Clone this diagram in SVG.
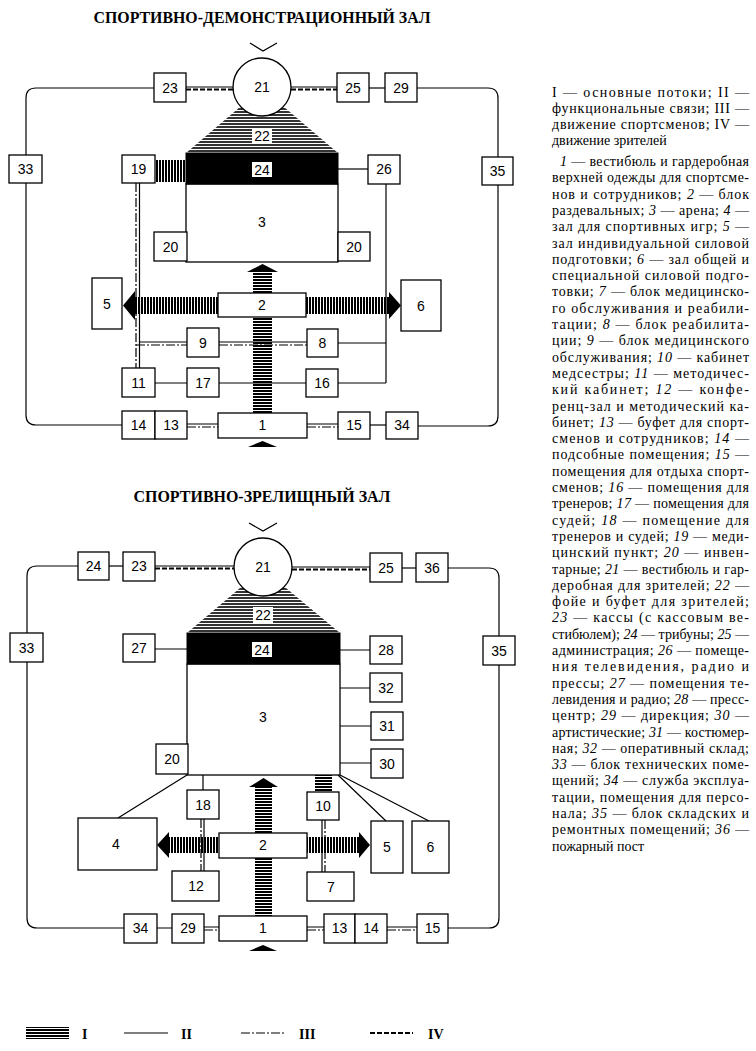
<svg xmlns="http://www.w3.org/2000/svg" width="756" height="1051" viewBox="0 0 756 1051">
<style>
.b{fill:#fff;stroke:#000;stroke-width:1.3}
.t{font-family:"Liberation Sans",Arial,sans-serif;font-size:14px;text-anchor:middle;fill:#000}
.l{fill:none;stroke:#000;stroke-width:1.2}
.dd{fill:none;stroke:#000;stroke-width:1.2;stroke-dasharray:9 2 2 2}
.ds{fill:none;stroke:#000;stroke-width:1.8;stroke-dasharray:5 2}
.ttl{font-family:"Liberation Serif","Times New Roman",serif;font-size:16px;font-weight:bold;text-anchor:middle}
.tx{font-family:"Liberation Serif","Times New Roman",serif;font-size:14px;fill:#000}
.lg{font-family:"Liberation Serif","Times New Roman",serif;font-size:14px;font-weight:bold}
.i{font-style:italic}
</style>
<defs>
<pattern id="pv" width="4" height="3" patternUnits="userSpaceOnUse"><rect width="4" height="2" fill="#000"/></pattern>
<pattern id="ph" width="3" height="4" patternUnits="userSpaceOnUse"><rect width="2" height="4" fill="#000"/></pattern>
<pattern id="p22" width="4" height="3" patternUnits="userSpaceOnUse"><rect width="4" height="3" fill="#fff"/><rect width="4" height="2" fill="#333"/></pattern>
</defs>

<!-- ===== TOP DIAGRAM ===== -->
<text class="ttl" x="262" y="23" textLength="337" lengthAdjust="spacingAndGlyphs">СПОРТИВНО-ДЕМОНСТРАЦИОННЫЙ ЗАЛ</text>
<path class="l" d="M250,43 L263,51 L277,43" stroke-width="1.5"/>

<g id="top-connectors">
<path class="l" d="M154,88 H36 Q26,88 26,98 V155 M26,183 V415 Q26,425 36,425 H122"/>
<path class="l" d="M417,88 H488 Q498,88 498,98 V157 M498,185 V416 Q498,426 488,426 H418"/>
<path class="l" d="M186,87 H234 M291,87 H337"/>
<path class="ds" d="M186,89.5 H234 M291,89.5 H337"/>
<path class="l" d="M369,88 H385"/>
<path class="l" d="M338,169 H368"/>
<path class="l" d="M386,184 V383 M338,343 H386 M338,383 H386"/>
<path class="l" d="M139.5,183 V368"/>
<path class="dd" d="M136,183 V368"/>
<path class="l" d="M139.5,342 H187 M219,342 H307"/>
<path class="dd" d="M136,345 H187 M219,345 H307"/>
<path class="l" d="M155,383 H187 M219,383 H306"/>
<path class="l" d="M187,424 H218 M307,424 H338"/>
<path class="dd" d="M187,427 H218 M307,427 H338"/>
<path class="l" d="M370,425 H386"/>
<!-- main flows -->
<rect x="155" y="160" width="31" height="22" fill="url(#ph)"/>
<rect x="134" y="297" width="84" height="17" fill="url(#ph)"/>
<polygon points="123,305.5 135,291 135,320" fill="#000"/>
<rect x="306" y="297" width="84" height="17" fill="url(#ph)"/>
<polygon points="401,305.5 389,292 389,319" fill="#000"/>
<rect x="253" y="272" width="19" height="21" fill="url(#pv)"/>
<polygon points="262.5,264 278,272 247,272" fill="#000"/>
<rect x="253" y="317" width="19" height="96" fill="url(#pv)"/>
<polygon points="262.5,441 277,447 248,447" fill="#000"/>
</g>

<g id="t-n22"><polygon points="240,107 284,107 338,153 186,153" fill="url(#p22)"/><rect x="252" y="128" width="20" height="15" fill="#fff"/><text class="t" x="262" y="141">22</text></g>
<g id="t-n21"><circle class="b" cx="262" cy="87" r="29"/><text class="t" x="262" y="92">21</text></g>
<g id="t-n23"><rect class="b" x="154" y="73" width="32" height="29"/><text class="t" x="170" y="93">23</text></g>
<g id="t-n25"><rect class="b" x="337" y="73" width="32" height="29"/><text class="t" x="353" y="93">25</text></g>
<g id="t-n29"><rect class="b" x="385" y="73" width="32" height="29"/><text class="t" x="401" y="93">29</text></g>
<g id="t-n33"><rect class="b" x="9" y="155" width="33" height="28"/><text class="t" x="25.5" y="174">33</text></g>
<g id="t-n19"><rect class="b" x="122" y="155" width="33" height="28"/><text class="t" x="138.5" y="174">19</text></g>
<g id="t-n26"><rect class="b" x="368" y="155" width="32" height="29"/><text class="t" x="384" y="174">26</text></g>
<g id="t-n35"><rect class="b" x="482" y="157" width="31" height="28"/><text class="t" x="497.5" y="176">35</text></g>
<g id="t-n3"><rect class="b" x="186" y="184" width="152" height="78"/><text class="t" x="262" y="227">3</text></g>
<g id="t-n24"><rect x="186" y="153" width="152" height="31" fill="#000" stroke="#000"/><rect x="252" y="162" width="20" height="15" fill="#fff"/><text class="t" x="262" y="175">24</text></g>
<g id="t-n20a"><rect class="b" x="154" y="232" width="33" height="29"/><text class="t" x="170.5" y="252">20</text></g>
<g id="t-n20b"><rect class="b" x="338" y="232" width="32" height="29"/><text class="t" x="354" y="252">20</text></g>
<g id="t-n5"><rect class="b" x="92" y="278" width="30" height="51"/><text class="t" x="107" y="309">5</text></g>
<g id="t-n6"><rect class="b" x="401" y="280" width="40" height="51"/><text class="t" x="421" y="311">6</text></g>
<g id="t-n2"><rect class="b" x="218" y="293" width="88" height="24"/><text class="t" x="262" y="310">2</text></g>
<g id="t-n9"><rect class="b" x="187" y="328" width="32" height="29"/><text class="t" x="203" y="348">9</text></g>
<g id="t-n8"><rect class="b" x="307" y="329" width="31" height="28"/><text class="t" x="322.5" y="348">8</text></g>
<g id="t-n11"><rect class="b" x="122" y="368" width="33" height="29"/><text class="t" x="138.5" y="388">11</text></g>
<g id="t-n17"><rect class="b" x="187" y="368" width="32" height="29"/><text class="t" x="203" y="388">17</text></g>
<g id="t-n16"><rect class="b" x="306" y="369" width="32" height="28"/><text class="t" x="322" y="388">16</text></g>
<g id="t-n14"><rect class="b" x="122" y="411" width="33" height="28"/><text class="t" x="138.5" y="430">14</text></g>
<g id="t-n13"><rect class="b" x="155" y="411" width="32" height="28"/><text class="t" x="171" y="430">13</text></g>
<g id="t-n1"><rect class="b" x="218" y="413" width="89" height="25"/><text class="t" x="262.5" y="430">1</text></g>
<g id="t-n15"><rect class="b" x="338" y="412" width="32" height="27"/><text class="t" x="354" y="430">15</text></g>
<g id="t-n34"><rect class="b" x="386" y="412" width="32" height="27"/><text class="t" x="402" y="430">34</text></g>

<!-- ===== BOTTOM DIAGRAM ===== -->
<text class="ttl" x="262" y="502" textLength="257" lengthAdjust="spacingAndGlyphs">СПОРТИВНО-ЗРЕЛИЩНЫЙ ЗАЛ</text>
<path class="l" d="M249,523 L263,531 L277,523" stroke-width="1.5"/>

<g id="bottom-connectors">
<path class="l" d="M78,566 H37 Q27,566 27,576 V633 M27,662 V918 Q27,928 37,928 H124"/>
<path class="l" d="M448,568 H489 Q499,568 499,578 V636 M499,665 V918 Q499,928 489,928 H448"/>
<path class="l" d="M109,566 H123"/>
<path class="l" d="M155,566 H234 M292,567 H370"/>
<path class="ds" d="M155,568.5 H234 M292,569.5 H370"/>
<path class="l" d="M402,568 H416"/>
<path class="l" d="M155,649 H187 M340,650 H370 M340,688 H370 M340,726 H371 M340,763 H371"/>
<path class="l" d="M187,775 L118,818 M203,775 V790 M338,775 L386,821 M340,775 L429,821"/>
<path class="l" d="M204,819 V871 M322,820 V872"/>
<path class="dd" d="M201,819 V871 M325,820 V872"/>
<path class="l" d="M157,928 H172 M204,927 H219 M307,927 H324 M387,927 H417"/>
<path class="dd" d="M204,930 H219 M307,930 H324 M387,930 H417"/>
<!-- main flows -->
<rect x="315" y="775" width="17" height="17" fill="url(#pv)"/>
<rect x="168" y="837" width="51" height="16" fill="url(#ph)"/>
<polygon points="157,845 169,832 169,858" fill="#000"/>
<rect x="307" y="837" width="53" height="16" fill="url(#ph)"/>
<polygon points="370,845 359,832 359,858" fill="#000"/>
<rect x="255" y="787" width="17" height="46" fill="url(#pv)"/>
<polygon points="263.5,778 278,787 249,787" fill="#000"/>
<rect x="255" y="858" width="17" height="58" fill="url(#pv)"/>
<polygon points="263,945 277,951 249,951" fill="#000"/>
</g>

<g id="b-n22"><polygon points="240,588 286,588 340,633 187,633" fill="url(#p22)"/><rect x="253" y="607" width="20" height="16" fill="#fff"/><text class="t" x="263" y="620">22</text></g>
<g id="b-n21"><circle class="b" cx="263" cy="567" r="29"/><text class="t" x="263" y="572">21</text></g>
<g id="b-n24s"><rect class="b" x="78" y="552" width="31" height="28"/><text class="t" x="93.5" y="571">24</text></g>
<g id="b-n23"><rect class="b" x="123" y="552" width="32" height="29"/><text class="t" x="139" y="571">23</text></g>
<g id="b-n25"><rect class="b" x="370" y="553" width="32" height="29"/><text class="t" x="386" y="573">25</text></g>
<g id="b-n36"><rect class="b" x="416" y="553" width="32" height="29"/><text class="t" x="432" y="573">36</text></g>
<g id="b-n33"><rect class="b" x="10" y="633" width="33" height="29"/><text class="t" x="26.5" y="653">33</text></g>
<g id="b-n27"><rect class="b" x="123" y="634" width="32" height="28"/><text class="t" x="139" y="653">27</text></g>
<g id="b-n28"><rect class="b" x="370" y="636" width="32" height="28"/><text class="t" x="386" y="655">28</text></g>
<g id="b-n35"><rect class="b" x="483" y="636" width="32" height="29"/><text class="t" x="499" y="656">35</text></g>
<g id="b-n32"><rect class="b" x="370" y="673" width="32" height="29"/><text class="t" x="386" y="693">32</text></g>
<g id="b-n3"><rect class="b" x="187" y="664" width="153" height="111"/><text class="t" x="263" y="722">3</text></g>
<g id="b-n24"><rect x="187" y="633" width="153" height="31" fill="#000" stroke="#000"/><rect x="252" y="642" width="20" height="15" fill="#fff"/><text class="t" x="262" y="655">24</text></g>
<g id="b-n31"><rect class="b" x="371" y="712" width="32" height="28"/><text class="t" x="387" y="731">31</text></g>
<g id="b-n30"><rect class="b" x="371" y="749" width="32" height="29"/><text class="t" x="387" y="769">30</text></g>
<g id="b-n20"><rect class="b" x="156" y="744" width="32" height="30"/><text class="t" x="172" y="764">20</text></g>
<g id="b-n18"><rect class="b" x="187" y="790" width="32" height="29"/><text class="t" x="203" y="810">18</text></g>
<g id="b-n10"><rect class="b" x="307" y="792" width="32" height="28"/><text class="t" x="323" y="811">10</text></g>
<g id="b-n4"><rect class="b" x="78" y="818" width="79" height="52"/><text class="t" x="116" y="849">4</text></g>
<g id="b-n2"><rect class="b" x="219" y="833" width="88" height="25"/><text class="t" x="263" y="850">2</text></g>
<g id="b-n5"><rect class="b" x="371" y="821" width="32" height="52"/><text class="t" x="387" y="852">5</text></g>
<g id="b-n6"><rect class="b" x="412" y="821" width="37" height="52"/><text class="t" x="430.5" y="852">6</text></g>
<g id="b-n12"><rect class="b" x="172" y="871" width="47" height="30"/><text class="t" x="196" y="891">12</text></g>
<g id="b-n7"><rect class="b" x="307" y="872" width="47" height="29"/><text class="t" x="331" y="892">7</text></g>
<g id="b-n34"><rect class="b" x="124" y="914" width="33" height="29"/><text class="t" x="140.5" y="933">34</text></g>
<g id="b-n29"><rect class="b" x="172" y="914" width="32" height="29"/><text class="t" x="188" y="933">29</text></g>
<g id="b-n1"><rect class="b" x="219" y="916" width="88" height="25"/><text class="t" x="263" y="933">1</text></g>
<g id="b-n13"><rect class="b" x="324" y="914" width="31" height="29"/><text class="t" x="339.5" y="933">13</text></g>
<g id="b-n14"><rect class="b" x="355" y="914" width="32" height="29"/><text class="t" x="371" y="933">14</text></g>
<g id="b-n15"><rect class="b" x="417" y="914" width="31" height="29"/><text class="t" x="432.5" y="933">15</text></g>

<!-- ===== LEGEND ===== -->
<g id="legend">
<rect x="26" y="1027" width="43" height="12" fill="url(#pv)"/>
<text class="lg" x="82" y="1039">I</text>
<path class="l" d="M124,1033 H168"/>
<text class="lg" x="181" y="1039">II</text>
<path class="dd" d="M241,1033 H285"/>
<text class="lg" x="299" y="1039">III</text>
<path class="ds" d="M370,1033 H413" stroke-width="1.3"/>
<text class="lg" x="428" y="1039">IV</text>
</g>

<!-- ===== TEXT ===== -->
<g id="notes" class="tx">
<text x="552" y="97" textLength="197" lengthAdjust="spacing">I — основные потоки; II —</text>
<text x="552" y="113" textLength="197" lengthAdjust="spacing">функциональные связи; III —</text>
<text x="552" y="129" textLength="197" lengthAdjust="spacing">движение спортсменов; IV —</text>
<text x="552" y="145">движение зрителей</text>

<text x="560" y="166" textLength="189" lengthAdjust="spacing"><tspan class="i">1</tspan> — вестибюль и гардеробная</text>
<text x="552" y="182.3" textLength="197" lengthAdjust="spacing">верхней одежды для спортсме-</text>
<text x="552" y="198.6" textLength="197" lengthAdjust="spacing">нов и сотрудников; <tspan class="i">2</tspan> — блок</text>
<text x="552" y="214.9" textLength="197" lengthAdjust="spacing">раздевальных; <tspan class="i">3</tspan> — арена; <tspan class="i">4</tspan> —</text>
<text x="552" y="231.2" textLength="197" lengthAdjust="spacing">зал для спортивных игр; <tspan class="i">5</tspan> —</text>
<text x="552" y="247.5" textLength="197" lengthAdjust="spacing">зал индивидуальной силовой</text>
<text x="552" y="263.8" textLength="197" lengthAdjust="spacing">подготовки; <tspan class="i">6</tspan> — зал общей и</text>
<text x="552" y="280.1" textLength="197" lengthAdjust="spacing">специальной силовой подго-</text>
<text x="552" y="296.4" textLength="197" lengthAdjust="spacing">товки; <tspan class="i">7</tspan> — блок медицинско-</text>
<text x="552" y="312.7" textLength="197" lengthAdjust="spacing">го обслуживания и реабили-</text>
<text x="552" y="329" textLength="197" lengthAdjust="spacing">тации; <tspan class="i">8</tspan> — блок реабилита-</text>
<text x="552" y="345.3" textLength="197" lengthAdjust="spacing">ции; <tspan class="i">9</tspan> — блок медицинского</text>
<text x="552" y="361.6" textLength="197" lengthAdjust="spacing">обслуживания; <tspan class="i">10</tspan> — кабинет</text>
<text x="552" y="377.9" textLength="197" lengthAdjust="spacing">медсестры; <tspan class="i">11</tspan> — методичес-</text>
<text x="552" y="394.2" textLength="197" lengthAdjust="spacing">кий кабинет; <tspan class="i">12</tspan> — конфе-</text>
<text x="552" y="410.5" textLength="197" lengthAdjust="spacing">ренц-зал и методический ка-</text>
<text x="552" y="426.8" textLength="197" lengthAdjust="spacing">бинет; <tspan class="i">13</tspan> — буфет для спорт-</text>
<text x="552" y="443.1" textLength="197" lengthAdjust="spacing">сменов и сотрудников; <tspan class="i">14</tspan> —</text>
<text x="552" y="459.4" textLength="197" lengthAdjust="spacing">подсобные помещения; <tspan class="i">15</tspan> —</text>
<text x="552" y="475.7" textLength="197" lengthAdjust="spacing">помещения для отдыха спорт-</text>
<text x="552" y="492" textLength="197" lengthAdjust="spacing">сменов; <tspan class="i">16</tspan> — помещения для</text>
<text x="552" y="508.3" textLength="197" lengthAdjust="spacing">тренеров; <tspan class="i">17</tspan> — помещения для</text>
<text x="552" y="524.6" textLength="197" lengthAdjust="spacing">судей; <tspan class="i">18</tspan> — помещение для</text>
<text x="552" y="540.9" textLength="197" lengthAdjust="spacing">тренеров и судей; <tspan class="i">19</tspan> — меди-</text>
<text x="552" y="557.2" textLength="197" lengthAdjust="spacing">цинский пункт; <tspan class="i">20</tspan> — инвен-</text>
<text x="552" y="573.5" textLength="197" lengthAdjust="spacing">тарные; <tspan class="i">21</tspan> — вестибюль и гар-</text>
<text x="552" y="589.8" textLength="197" lengthAdjust="spacing">деробная для зрителей; <tspan class="i">22</tspan> —</text>
<text x="552" y="606.1" textLength="197" lengthAdjust="spacing">фойе и буфет для зрителей;</text>
<text x="552" y="622.4" textLength="197" lengthAdjust="spacing"><tspan class="i">23</tspan> — кассы (с кассовым ве-</text>
<text x="552" y="638.7" textLength="197" lengthAdjust="spacing">стибюлем); <tspan class="i">24</tspan> — трибуны; <tspan class="i">25</tspan> —</text>
<text x="552" y="655" textLength="197" lengthAdjust="spacing">администрация; <tspan class="i">26</tspan> — помеще-</text>
<text x="552" y="671.3" textLength="197" lengthAdjust="spacing">ния телевидения, радио и</text>
<text x="552" y="687.6" textLength="197" lengthAdjust="spacing">прессы; <tspan class="i">27</tspan> — помещения те-</text>
<text x="552" y="703.9" textLength="197" lengthAdjust="spacing">левидения и радио; <tspan class="i">28</tspan> — пресс-</text>
<text x="552" y="720.2" textLength="197" lengthAdjust="spacing">центр; <tspan class="i">29</tspan> — дирекция; <tspan class="i">30</tspan> —</text>
<text x="552" y="736.5" textLength="197" lengthAdjust="spacing">артистические; <tspan class="i">31</tspan> — костюмер-</text>
<text x="552" y="752.8" textLength="197" lengthAdjust="spacing">ная; <tspan class="i">32</tspan> — оперативный склад;</text>
<text x="552" y="769.1" textLength="197" lengthAdjust="spacing"><tspan class="i">33</tspan> — блок технических поме-</text>
<text x="552" y="785.4" textLength="197" lengthAdjust="spacing">щений; <tspan class="i">34</tspan> — служба эксплуа-</text>
<text x="552" y="801.7" textLength="197" lengthAdjust="spacing">тации, помещения для персо-</text>
<text x="552" y="818" textLength="197" lengthAdjust="spacing">нала; <tspan class="i">35</tspan> — блок складских и</text>
<text x="552" y="834.3" textLength="197" lengthAdjust="spacing">ремонтных помещений; <tspan class="i">36</tspan> —</text>
<text x="552" y="850.6">пожарный пост</text>
</g>
</svg>
